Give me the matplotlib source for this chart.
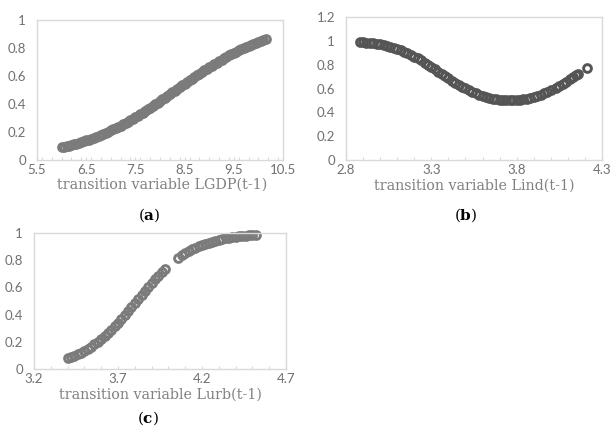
import matplotlib
matplotlib.use("Agg")
import matplotlib.pyplot as plt
from matplotlib.ticker import MultipleLocator

# ---------------- data ----------------
lgdp_x = [6.00, 6.05, 6.10, 6.15, 6.20, 6.25, 6.30, 6.35, 6.40, 6.45, 6.50, 6.55, 6.60, 6.65,
          6.70, 6.75, 6.80, 6.85, 6.90, 6.95, 7.00, 7.05, 7.10, 7.15, 7.20, 7.25, 7.30, 7.35,
          7.40, 7.45, 7.50, 7.55, 7.60, 7.65, 7.70, 7.75, 7.80, 7.85, 7.90, 7.95, 8.00, 8.05,
          8.10, 8.15, 8.20, 8.25, 8.30, 8.35, 8.40, 8.45, 8.50, 8.55, 8.60, 8.65, 8.70, 8.75,
          8.80, 8.85, 8.90, 8.95, 9.00, 9.05, 9.10, 9.15, 9.20, 9.25, 9.30, 9.35, 9.40, 9.45,
          9.50, 9.55, 9.60, 9.65, 9.70, 9.75, 9.80, 9.85, 9.90, 9.95, 10.00, 10.05, 10.10, 10.15]
lgdp_y = [0.0895, 0.0936, 0.0980, 0.1025, 0.1072, 0.1120, 0.1171, 0.1224, 0.1279, 0.1335,
          0.1394, 0.1455, 0.1519, 0.1584, 0.1652, 0.1722, 0.1795, 0.1870, 0.1947, 0.2026,
          0.2108, 0.2193, 0.2279, 0.2369, 0.2460, 0.2554, 0.2650, 0.2749, 0.2850, 0.2953,
          0.3058, 0.3165, 0.3274, 0.3385, 0.3498, 0.3612, 0.3729, 0.3846, 0.3965, 0.4085,
          0.4207, 0.4329, 0.4452, 0.4576, 0.4700, 0.4825, 0.4950, 0.5075, 0.5200, 0.5325,
          0.5449, 0.5572, 0.5695, 0.5818, 0.5939, 0.6059, 0.6177, 0.6295, 0.6411, 0.6525,
          0.6638, 0.6748, 0.6857, 0.6964, 0.7068, 0.7171, 0.7271, 0.7369, 0.7465, 0.7558,
          0.7649, 0.7738, 0.7825, 0.7908, 0.7990, 0.8069, 0.8146, 0.8220, 0.8292, 0.8362,
          0.8429, 0.8494, 0.8557, 0.8618]

lind_x = [2.88, 2.90, 2.92, 2.94, 2.96, 2.98, 3.00, 3.02, 3.04, 3.06, 3.08, 3.10, 3.12, 3.14,
          3.16, 3.18, 3.20, 3.22, 3.24, 3.26, 3.28, 3.30, 3.32, 3.34, 3.36, 3.38, 3.40, 3.42,
          3.44, 3.46, 3.48, 3.50, 3.52, 3.54, 3.56, 3.58, 3.60, 3.62, 3.64, 3.66, 3.68, 3.70,
          3.72, 3.74, 3.76, 3.78, 3.80, 3.82, 3.84, 3.86, 3.88, 3.90, 3.92, 3.94, 3.96, 3.98,
          4.00, 4.03, 4.05, 4.07, 4.09, 4.11, 4.13, 4.15, 4.16, 4.21]
lind_y = [0.9905, 0.9883, 0.9857, 0.9826, 0.9790, 0.9747, 0.9697, 0.9639, 0.9573, 0.9498,
          0.9412, 0.9317, 0.9211, 0.9094, 0.8966, 0.8827, 0.8678, 0.8520, 0.8350, 0.8176,
          0.7994, 0.7807, 0.7616, 0.7423, 0.7231, 0.7039, 0.6852, 0.6668, 0.6489, 0.6318,
          0.6154, 0.6001, 0.5857, 0.5720, 0.5597, 0.5484, 0.5384, 0.5295, 0.5215, 0.5150,
          0.5096, 0.5055, 0.5024, 0.5006, 0.5000, 0.5006, 0.5024, 0.5055, 0.5096, 0.5150,
          0.5215, 0.5295, 0.5384, 0.5484, 0.5597, 0.5720, 0.5857, 0.6076, 0.6236, 0.6403,
          0.6577, 0.6759, 0.6944, 0.7136, 0.7231, 0.7712]

lurb_x = [3.40, 3.42, 3.44, 3.46, 3.48, 3.50, 3.52, 3.54, 3.56, 3.58, 3.60, 3.62, 3.64, 3.66,
          3.68, 3.70, 3.72, 3.74, 3.76, 3.78, 3.80, 3.82, 3.84, 3.86, 3.88, 3.90, 3.92, 3.94,
          3.96, 3.98,
          4.06, 4.08, 4.10, 4.12, 4.14, 4.16, 4.18, 4.20, 4.22, 4.24, 4.26, 4.28, 4.30, 4.32,
          4.34, 4.36, 4.38, 4.40, 4.42, 4.44, 4.46, 4.48, 4.50, 4.52]
lurb_y = [0.0787, 0.0879, 0.0980, 0.1091, 0.1213, 0.1347, 0.1493, 0.1652, 0.1824, 0.2010,
          0.2210, 0.2423, 0.2650, 0.2890, 0.3144, 0.3407, 0.3682, 0.3965, 0.4256, 0.4551,
          0.4850, 0.5150, 0.5449, 0.5744, 0.6035, 0.6318, 0.6593, 0.6857, 0.7109, 0.7350,
          0.8176, 0.8348, 0.8507, 0.8653, 0.8787, 0.8909, 0.9020, 0.9122, 0.9213, 0.9296,
          0.9370, 0.9438, 0.9498, 0.9552, 0.9601, 0.9644, 0.9683, 0.9718, 0.9749, 0.9777,
          0.9802, 0.9824, 0.9843, 0.9861]

a_xticks = [5.5, 6.5, 7.5, 8.5, 9.5, 10.5]
a_xlabels = ["5.5", "6.5", "7.5", "8.5", "9.5", "10.5"]
a_yticks = [0, 0.2, 0.4, 0.6, 0.8, 1.0]
a_ylabels = ["0", "0.2", "0.4", "0.6", "0.8", "1"]

b_xticks = [2.8, 3.3, 3.8, 4.3]
b_xlabels = ["2.8", "3.3", "3.8", "4.3"]
b_yticks = [0, 0.2, 0.4, 0.6, 0.8, 1.0, 1.2]
b_ylabels = ["0", "0.2", "0.4", "0.6", "0.8", "1", "1.2"]

c_xticks = [3.2, 3.7, 4.2, 4.7]
c_xlabels = ["3.2", "3.7", "4.2", "4.7"]
c_yticks = [0, 0.2, 0.4, 0.6, 0.8, 1.0]
c_ylabels = ["0", "0.2", "0.4", "0.6", "0.8", "1"]

xlabel_a = "transition variable LGDP(t-1)"
xlabel_b = "transition variable Lind(t-1)"
xlabel_c = "transition variable Lurb(t-1)"

# ---------------- styling ----------------
plt.rcParams['mathtext.fontset'] = 'custom'
plt.rcParams['mathtext.rm'] = 'DejaVu Serif'
plt.rcParams['mathtext.bf'] = 'DejaVu Serif:bold'

W, H = 612, 444
fig = plt.figure(figsize=(W / 100, H / 100), dpi=100)
fig.patch.set_facecolor('white')

TICKFONT = 'Lato'
SERIF = 'DejaVu Serif'
SPINE = '#d9d9d9'
TICKCOL = '#707070'
LABCOL = '#808080'


def px_rect(left, top, right, bottom):
    return [left / W, 1 - bottom / H, (right - left) / W, (bottom - top) / H]


def setup(ax, xlim, ylim, xticks, xlabels, yticks, ylabels, minor, xpad):
    ax.set_xlim(*xlim)
    ax.set_ylim(*ylim)
    ax.set_xticks(xticks)
    ax.set_xticklabels(xlabels)
    ax.set_yticks(yticks)
    ax.set_yticklabels(ylabels)
    ax.xaxis.set_minor_locator(MultipleLocator(minor))
    for s in ax.spines.values():
        s.set_color(SPINE)
        s.set_linewidth(1.0)
    ax.tick_params(axis='x', which='both', direction='in', length=2.5, width=0.8,
                   color=SPINE, pad=xpad, labelsize=9.5, labelcolor=TICKCOL)
    ax.tick_params(axis='y', which='both', length=0, pad=8, labelsize=9.5,
                   labelcolor=TICKCOL)
    for lab in ax.get_xticklabels() + ax.get_yticklabels():
        lab.set_fontfamily(TICKFONT)


def scatter(ax, x, y, color):
    ax.plot(x, y, linestyle='none', marker='o', markersize=5.6,
            markerfacecolor='none', markeredgecolor=color, markeredgewidth=2.1,
            clip_on=False)


# panel (a)
axa = fig.add_axes(px_rect(37, 20, 283, 160))
scatter(axa, lgdp_x, lgdp_y, '#7b7b7b')
setup(axa, (5.5, 10.5), (0, 1), a_xticks, a_xlabels, a_yticks, a_ylabels, 0.2, 3)

# panel (b)
axb = fig.add_axes(px_rect(346, 17, 602, 160))
scatter(axb, lind_x, lind_y, '#555555')
setup(axb, (2.8, 4.3), (0, 1.2), b_xticks, b_xlabels, b_yticks, b_ylabels, 0.1, 3)

# panel (c)
axc = fig.add_axes(px_rect(34, 233, 286, 369))
scatter(axc, lurb_x, lurb_y, '#7b7b7b')
setup(axc, (3.2, 4.7), (0, 1), c_xticks, c_xlabels, c_yticks, c_ylabels, 0.1, 3)

# axis titles (overlapping the tick labels, as in the original)
for (cx, cy, txt) in [(162, 185, xlabel_a), (474, 186, xlabel_b), (160, 395, xlabel_c)]:
    fig.text(cx / W, 1 - cy / H, txt, ha='center', va='center', fontsize=10.3,
             family=SERIF, color=LABCOL)

# panel letters
for (cx, cy, letter) in [(149, 215, 'a'), (466, 215, 'b'), (148, 418, 'c')]:
    fig.text(cx / W, 1 - cy / H, r'($\mathbf{' + letter + r'}$)', ha='center', va='center',
             fontsize=11, family=SERIF, color='black')

fig.savefig('out.png', dpi=100, facecolor='white')
